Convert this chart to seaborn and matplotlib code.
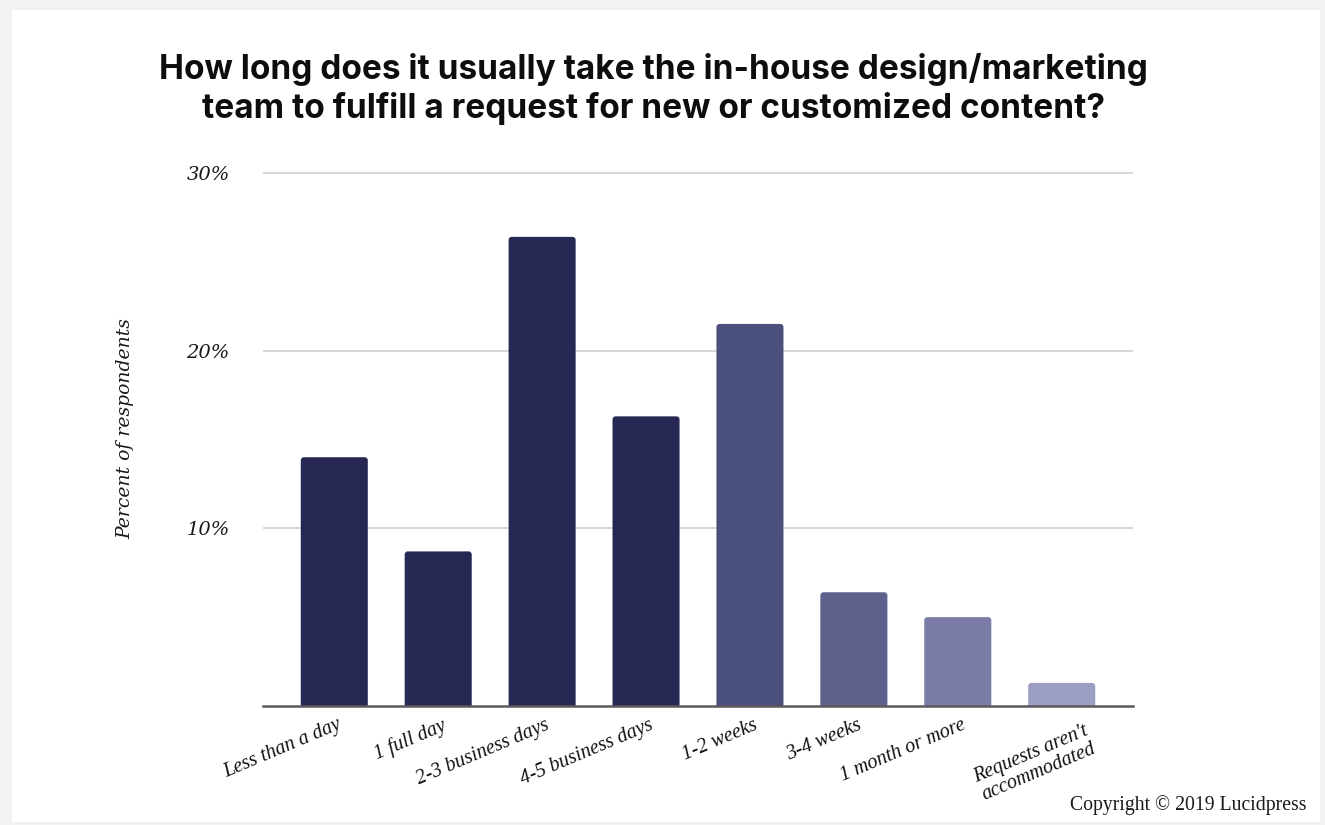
import matplotlib
matplotlib.use("Agg")
import matplotlib.pyplot as plt
import seaborn as sns
import pandas as pd
from matplotlib.patches import FancyBboxPatch, Rectangle
from matplotlib.transforms import ScaledTranslation

# Survey answers and share of respondents (%)
categories = ["Less than a day", "1 full day", "2-3 business days", "4-5 business days",
              "1-2 weeks", "3-4 weeks", "1 month or more", "Requests aren't\naccommodated"]
percent = [14.0, 8.7, 26.4, 16.3, 21.5, 6.4, 5.0, 1.3]
bar_colors = ["#262853", "#262853", "#262853", "#262853",
              "#4b4f7d", "#5e618b", "#7b7ca8", "#9d9ec3"]
y_ticks = [10, 20, 30]
y_tick_labels = ["10%", "20%", "30%"]

title = ("How long does it usually take the in-house design/marketing\n"
         "team to fulfill a request for new or customized content?")

df = pd.DataFrame({"category": categories, "percent": percent})

sns.set_theme(style="white")
W, H = 1325, 825
fig = plt.figure(figsize=(W / 100, H / 100), dpi=100)
fig.patch.set_facecolor("#f2f2f2")
# white card behind everything
fig.patches.append(Rectangle((12 / W, 1 - 822 / H), 1308 / W, 812 / H,
                             transform=fig.transFigure, facecolor="white",
                             edgecolor="none", zorder=-10))

ymax = 31
px_per_unit = 17.77
ax_top = 706 - ymax * px_per_unit
ax = fig.add_axes([263 / W, 1 - 706 / H, 870 / W, (706 - ax_top) / H])
ax.set_facecolor("none")

sns.barplot(data=df, x="category", y="percent", hue="category", palette=bar_colors,
            legend=False, width=0.645, saturation=1, ax=ax, zorder=3)

# rounded bar tops
r = 0.03
aspect = (104.2 / px_per_unit)
for p in list(ax.patches):
    x, w, h = p.get_x(), p.get_width(), p.get_height()
    fc = p.get_facecolor()
    p.remove()
    ext = r * aspect
    ax.add_patch(FancyBboxPatch((x, -ext), w, h + ext,
                                boxstyle=f"round,pad=0,rounding_size={r}",
                                mutation_aspect=aspect, facecolor=fc,
                                edgecolor="none", zorder=3))

ax.set_xlim(-0.686, 7.686)
ax.set_ylim(0, ymax)
ax.set_yticks(y_ticks)
ax.set_yticklabels(y_tick_labels, fontfamily="DejaVu Serif", fontstyle="italic",
                   fontsize=14, color="#1a1a1a")
ax.tick_params(axis="y", length=0, pad=24)
ax.yaxis.grid(True, color="#d6d6d6", linewidth=1.4, zorder=0)
ax.xaxis.grid(False)
ax.set_axisbelow(True)

ax.set_xticks(range(len(categories)))
ax.set_xticklabels(categories, rotation=23, ha="right", rotation_mode="anchor",
                   fontfamily="Liberation Serif", fontstyle="italic", fontsize=14.5,
                   color="#111111", multialignment="center", linespacing=1.0)
ax.tick_params(axis="x", length=0, pad=7)
for lab in ax.get_xticklabels():
    dx, dy = (3, 0)
    if "\n" in lab.get_text():
        dx, dy = (22, -6)
    lab.set_transform(lab.get_transform()
                      + ScaledTranslation(dx / 100, dy / 100, fig.dpi_scale_trans))

ax.set_xlabel("")
ax.set_ylabel("")
for side in ["top", "right", "left"]:
    ax.spines[side].set_visible(False)
ax.spines["bottom"].set_color("#5a5a5a")
ax.spines["bottom"].set_linewidth(1.8)
ax.spines["bottom"].set_zorder(4)

fig.text(125 / W, 1 - 429 / H, "Percent of respondents", rotation=90,
         ha="center", va="center", fontfamily="DejaVu Serif", fontstyle="italic",
         fontsize=13.5, color="#1a1a1a")

fig.text(653 / W, 1 - 89 / H, title, ha="center", va="center",
         fontfamily="Inter", fontweight="bold", fontsize=24, color="#0d0d0d",
         linespacing=1.2)

fig.text(1306 / W, 1 - 810 / H, "Copyright \u00a9 2019 Lucidpress", ha="right",
         va="baseline", fontfamily="Liberation Serif", fontsize=14.2, color="#1a1a1a")

fig.savefig("out.png", dpi=100, facecolor=fig.get_facecolor())
